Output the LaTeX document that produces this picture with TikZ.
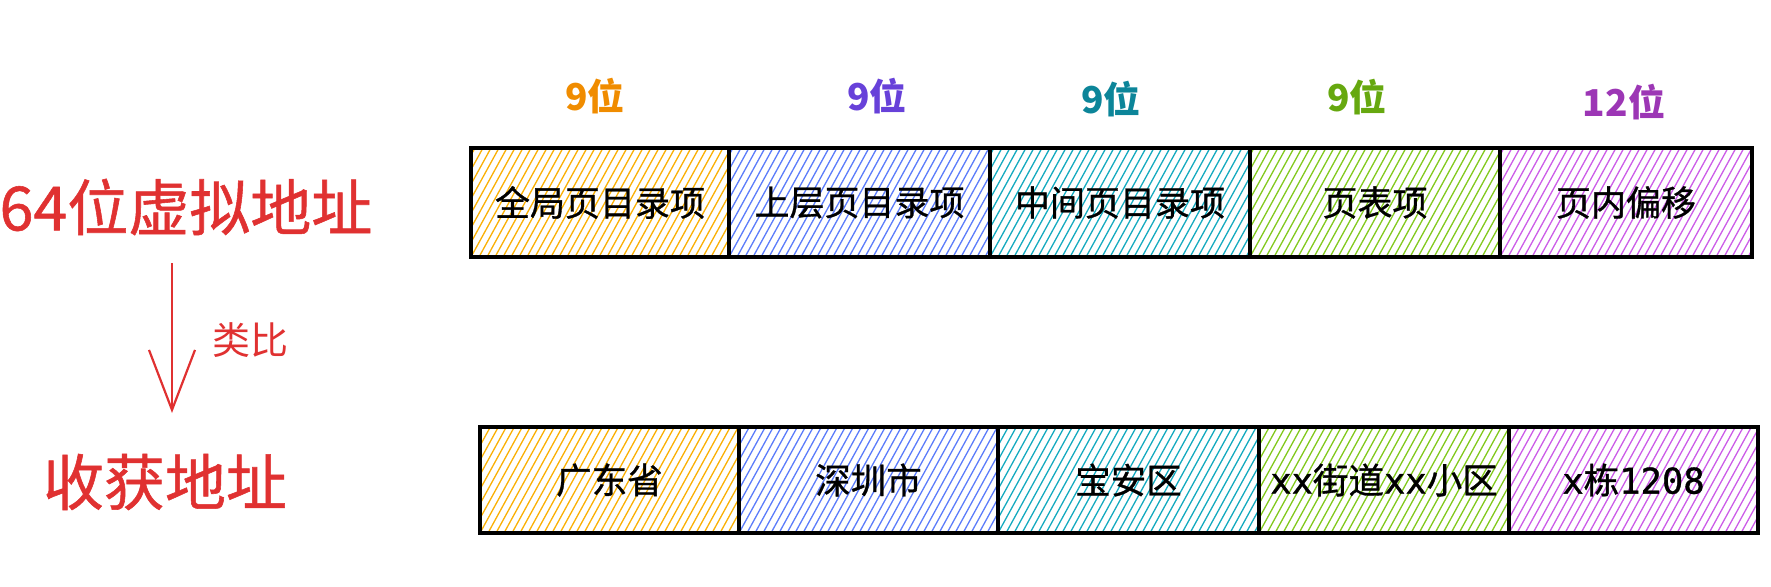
\documentclass[tikz,border=0pt]{standalone}
\usepackage{fontspec}
\setmainfont{Noto Sans CJK SC}
\newfontfamily\medfont[FakeBold=0.9]{Noto Sans CJK SC}
\newfontfamily\monofont[FakeBold=0.9]{DejaVu Sans Mono}
\usetikzlibrary{arrows.meta}
\definecolor{redtxt}{HTML}{E03131}
\definecolor{labO}{HTML}{F08C00}
\definecolor{labV}{HTML}{6741D9}
\definecolor{labT}{HTML}{0C8599}
\definecolor{labG}{HTML}{66A80F}
\definecolor{labP}{HTML}{9C36B5}
\definecolor{hY}{HTML}{FAB005}
\definecolor{hB}{HTML}{5C7CFA}
\definecolor{hT}{HTML}{15AABF}
\definecolor{hG}{HTML}{82C91E}
\definecolor{hP}{HTML}{CC5DE8}
\begin{document}
\begin{tikzpicture}[x=1pt,y=-1pt,
  hatch/.style={path picture={
    \foreach \k in {-11,...,35}{
      \draw[draw=#1, line width=1.3pt, line cap=round]
        ([xshift=\k*8pt]path picture bounding box.south west) -- ++(66pt,120pt);
    }}},
  cellbox/.style={draw=black, line width=3.2pt, inner sep=0pt, align=center,
    font=\medfont\fontsize{35}{40}\selectfont},
  toprow/.style={cellbox, minimum height=109pt},
  botrow/.style={cellbox, minimum height=106pt, font=\medfont\fontsize{35.5}{40}\selectfont},
  bitlabel/.style={inner sep=0pt, font=\bfseries\fontsize{37}{42}\selectfont},
  bigred/.style={inner sep=0pt, text=redtxt, font=\medfont\fontsize{61}{70}\selectfont},
  redarrow/.style={draw=redtxt, line width=2.2pt, -{Straight Barb[length=60pt,width=46pt]}}
]
\useasboundingbox (0,0) rectangle (1771,586);

% top row
\node[toprow, hatch=hY, minimum width=258pt] (g1) at (600,202.5) {全局页目录项};
\node[toprow, hatch=hB, minimum width=261pt] (g2) at (859.5,202.5) {上层页目录项};
\node[toprow, hatch=hT, minimum width=260pt] (g3) at (1120,202.5) {中间页目录项};
\node[toprow, hatch=hG, minimum width=250pt] (g4) at (1375,202.5) {页表项};
\node[toprow, hatch=hP, minimum width=252pt] (g5) at (1626,202.5) {页内偏移};

% bit labels
\node[bitlabel, text=labO] (l1) at (595,96) {9位};
\node[bitlabel, text=labV] (l2) at (877,96) {9位};
\node[bitlabel, text=labT] (l3) at (1111,99) {9位};
\node[bitlabel, text=labG] (l4) at (1357,97) {9位};
\node[bitlabel, text=labP] (l5) at (1624,102) {12位};

% bottom row
\node[botrow, hatch=hY, minimum width=259pt] (h1) at (609.5,480) {广东省};
\node[botrow, hatch=hB, minimum width=259pt] (h2) at (868.5,480) {深圳市};
\node[botrow, hatch=hT, minimum width=261pt] (h3) at (1128.5,480) {宝安区};
\node[botrow, hatch=hG, minimum width=250pt] (h4) at (1384,480) {{\monofont xx}街道{\monofont xx}小区};
\node[botrow, hatch=hP, minimum width=249pt] (h5) at (1633.5,480) {{\monofont x}栋{\monofont 1208}};

% left texts
\node[bigred] (v) at (186,207) {64位虚拟地址};
\node[bigred] (s) at (165,482) {收获地址};
\node[inner sep=0pt, text=redtxt, font=\fontsize{38}{44}\selectfont] (c) at (250,340) {类比};

\coordinate (a1) at (172,263);
\coordinate (a2) at (172,413);
\draw[redarrow] (a1) -- (a2);
\end{tikzpicture}
\end{document}
